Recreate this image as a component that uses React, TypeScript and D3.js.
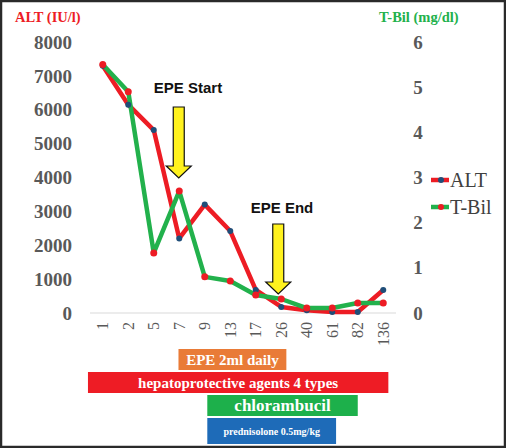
import { useEffect, useRef } from "react";
import * as d3 from "d3";

// ── Data ──────────────────────────────────────────────────────────────────────

const DAYS = ["1", "2", "5", "7", "9", "13", "17", "26", "40", "61", "82", "136"];
const ALT = [7300, 6150, 5400, 2200, 3200, 2420, 680, 180, 80, 30, 30, 680];
const TBIL = [5.5, 4.9, 1.33, 2.7, 0.8, 0.71, 0.4, 0.31, 0.11, 0.11, 0.22, 0.22];

const ALT_TICKS = [0, 1000, 2000, 3000, 4000, 5000, 6000, 7000, 8000];
const TBIL_TICKS = [0, 1, 2, 3, 4, 5, 6];

// treatment bars: label, start / end as (fractional) day index
const TREAT_LABELS = ["EPE 2ml daily", "hepatoprotective agents 4 types", "chlorambucil", "prednisolone 0.5mg/kg"];
const TREAT_START = [2.97, -0.58, 4.1, 4.1];
const TREAT_END = [7.2, 11.2, 10.0, 9.15];

// ── Config ────────────────────────────────────────────────────────────────────

const W = 506;
const H = 448;
const PLOT = { left: 90, right: 396, top: 42, bottom: 313 };

const RED = "#ED1C24";
const GREEN = "#22B14C";
const NAVY = "#1F4E79";
const GREY = "#595959";
const SERIF = "'Liberation Serif', 'Times New Roman', serif";
const SANS = "'Liberation Sans', Arial, sans-serif";

const TREAT_COLORS = ["#E97B37", "#EE1C25", "#1DB04B", "#1E6BB8"];
const TREAT_ROWS = [[349, 21], [372, 21], [395, 21], [418, 26]];
const TREAT_FONT = [15, 15, 17, 10];

// ── Component ─────────────────────────────────────────────────────────────────

const App = () => {
  const svgRef = useRef<SVGSVGElement>(null);

  useEffect(() => {
    if (!svgRef.current) return;
    const svg = d3.select(svgRef.current);
    svg.selectAll("*").remove();

    svg.append("rect")
      .attr("width", W).attr("height", H)
      .attr("fill", "#fff");

    const x = d3.scalePoint<string>()
      .domain(DAYS)
      .range([PLOT.left, PLOT.right])
      .padding(0.5);

    const xi = d3.scaleLinear()
      .domain([0, DAYS.length - 1])
      .range([x(DAYS[0]) ?? 0, x(DAYS[DAYS.length - 1]) ?? 0]);

    const yL = d3.scaleLinear().domain([0, 8000]).range([PLOT.bottom, PLOT.top]);
    const yR = d3.scaleLinear().domain([0, 6]).range([PLOT.bottom, PLOT.top]);

    // Axis titles
    svg.append("text")
      .attr("x", 15).attr("y", 22)
      .attr("font-family", SERIF).attr("font-weight", "bold")
      .attr("font-size", 14.5).attr("fill", RED)
      .text("ALT (IU/l)");

    svg.append("text")
      .attr("x", 379).attr("y", 22)
      .attr("font-family", SERIF).attr("font-weight", "bold")
      .attr("font-size", 14.5).attr("fill", GREEN)
      .text("T-Bil (mg/dl)");

    // Left ticks
    svg.append("g")
      .selectAll("text")
      .data(ALT_TICKS)
      .join("text")
      .attr("x", 72)
      .attr("y", (d) => yL(d))
      .attr("dy", "0.35em")
      .attr("text-anchor", "end")
      .attr("font-family", SERIF).attr("font-weight", "bold")
      .attr("font-size", 19).attr("fill", GREY)
      .text((d) => d);

    // Right ticks
    svg.append("g")
      .selectAll("text")
      .data(TBIL_TICKS)
      .join("text")
      .attr("x", 418)
      .attr("y", (d) => yR(d))
      .attr("dy", "0.35em")
      .attr("text-anchor", "middle")
      .attr("font-family", SERIF).attr("font-weight", "bold")
      .attr("font-size", 19).attr("fill", GREY)
      .text((d) => d);

    // Baseline
    svg.append("line")
      .attr("x1", PLOT.left).attr("x2", PLOT.right)
      .attr("y1", PLOT.bottom).attr("y2", PLOT.bottom)
      .attr("stroke", "#D9D9D9").attr("stroke-width", 1);

    // X tick labels (rotated)
    svg.append("g")
      .selectAll("text")
      .data(DAYS)
      .join("text")
      .attr("transform", (d) => `translate(${x(d)},322) rotate(-90)`)
      .attr("dy", "0.35em")
      .attr("text-anchor", "end")
      .attr("font-family", SERIF)
      .attr("font-size", 16).attr("fill", GREY)
      .text((d) => d);

    // Lines
    const altLine = d3.line<number>()
      .x((_, i) => x(DAYS[i]) ?? 0)
      .y((d) => yL(d));
    const tbilLine = d3.line<number>()
      .x((_, i) => x(DAYS[i]) ?? 0)
      .y((d) => yR(d));

    svg.append("path")
      .datum(ALT)
      .attr("fill", "none").attr("stroke", RED)
      .attr("stroke-width", 4.5).attr("stroke-linejoin", "round")
      .attr("d", altLine);

    svg.append("path")
      .datum(TBIL)
      .attr("fill", "none").attr("stroke", GREEN)
      .attr("stroke-width", 4.5).attr("stroke-linejoin", "round")
      .attr("d", tbilLine);

    svg.append("g")
      .selectAll("circle")
      .data(ALT)
      .join("circle")
      .attr("cx", (_, i) => x(DAYS[i]) ?? 0)
      .attr("cy", (d) => yL(d))
      .attr("r", 3)
      .attr("fill", NAVY);

    svg.append("g")
      .selectAll("circle")
      .data(TBIL)
      .join("circle")
      .attr("cx", (_, i) => x(DAYS[i]) ?? 0)
      .attr("cy", (d) => yR(d))
      .attr("r", 3.5)
      .attr("fill", RED);

    // Legend
    const legend = [
      { label: "ALT", line: RED, dot: NAVY, y: 180 },
      { label: "T-Bil", line: GREEN, dot: RED, y: 207 },
    ];
    legend.forEach(({ label, line, dot, y }) => {
      svg.append("line")
        .attr("x1", 431).attr("x2", 449)
        .attr("y1", y).attr("y2", y)
        .attr("stroke", line).attr("stroke-width", 4.5);
      svg.append("circle")
        .attr("cx", 441).attr("cy", y).attr("r", 3)
        .attr("fill", dot);
      svg.append("text")
        .attr("x", 450).attr("y", y)
        .attr("dy", "0.35em")
        .attr("font-family", SERIF)
        .attr("font-size", 20).attr("fill", "#404040")
        .text(label);
    });

    // Annotations with arrows
    const arrow = (cx: number, top: number, tip: number) => {
      const sw = 5.5, hw = 12.5, hh = 12;
      const pts: [number, number][] = [
        [cx - sw, top], [cx + sw, top], [cx + sw, tip - hh], [cx + hw, tip - hh],
        [cx, tip], [cx - hw, tip - hh], [cx - sw, tip - hh],
      ];
      svg.append("path")
        .attr("d", d3.line()(pts) + "Z")
        .attr("fill", "#FFF21E")
        .attr("stroke", "#111").attr("stroke-width", 1.2)
        .attr("stroke-linejoin", "miter");
    };

    svg.append("text")
      .attr("x", 188).attr("y", 88).attr("dy", "0.35em")
      .attr("text-anchor", "middle")
      .attr("font-family", SANS).attr("font-weight", "bold")
      .attr("font-size", 15).attr("fill", "#111")
      .text("EPE Start");
    arrow((x("7") ?? 0) - 0.5, 107, 178);

    svg.append("text")
      .attr("x", 282).attr("y", 208).attr("dy", "0.35em")
      .attr("text-anchor", "middle")
      .attr("font-family", SANS).attr("font-weight", "bold")
      .attr("font-size", 15).attr("fill", "#111")
      .text("EPE End");
    arrow((x("26") ?? 0) - 3, 224, 294);

    // Treatment bars
    TREAT_LABELS.forEach((label, i) => {
      const x0 = xi(TREAT_START[i]);
      const x1 = xi(TREAT_END[i]);
      const [ty, th] = TREAT_ROWS[i];
      svg.append("rect")
        .attr("x", x0).attr("y", ty)
        .attr("width", x1 - x0).attr("height", th)
        .attr("fill", TREAT_COLORS[i]);
      svg.append("text")
        .attr("x", (x0 + x1) / 2).attr("y", ty + th / 2)
        .attr("dy", "0.35em")
        .attr("text-anchor", "middle")
        .attr("font-family", SERIF).attr("font-weight", "bold")
        .attr("font-size", TREAT_FONT[i]).attr("fill", "#fff")
        .text(label);
    });

    // Frame
    svg.append("rect")
      .attr("x", 1).attr("y", 1)
      .attr("width", W - 2).attr("height", H - 2)
      .attr("fill", "none")
      .attr("stroke", "#2a2a2a").attr("stroke-width", 2.5);
  }, []);

  return (
    <>
      <style>{`body{margin:0}`}</style>
      <svg ref={svgRef} width={W} height={H} style={{ display: "block" }} />
    </>
  );
};

export default App;
